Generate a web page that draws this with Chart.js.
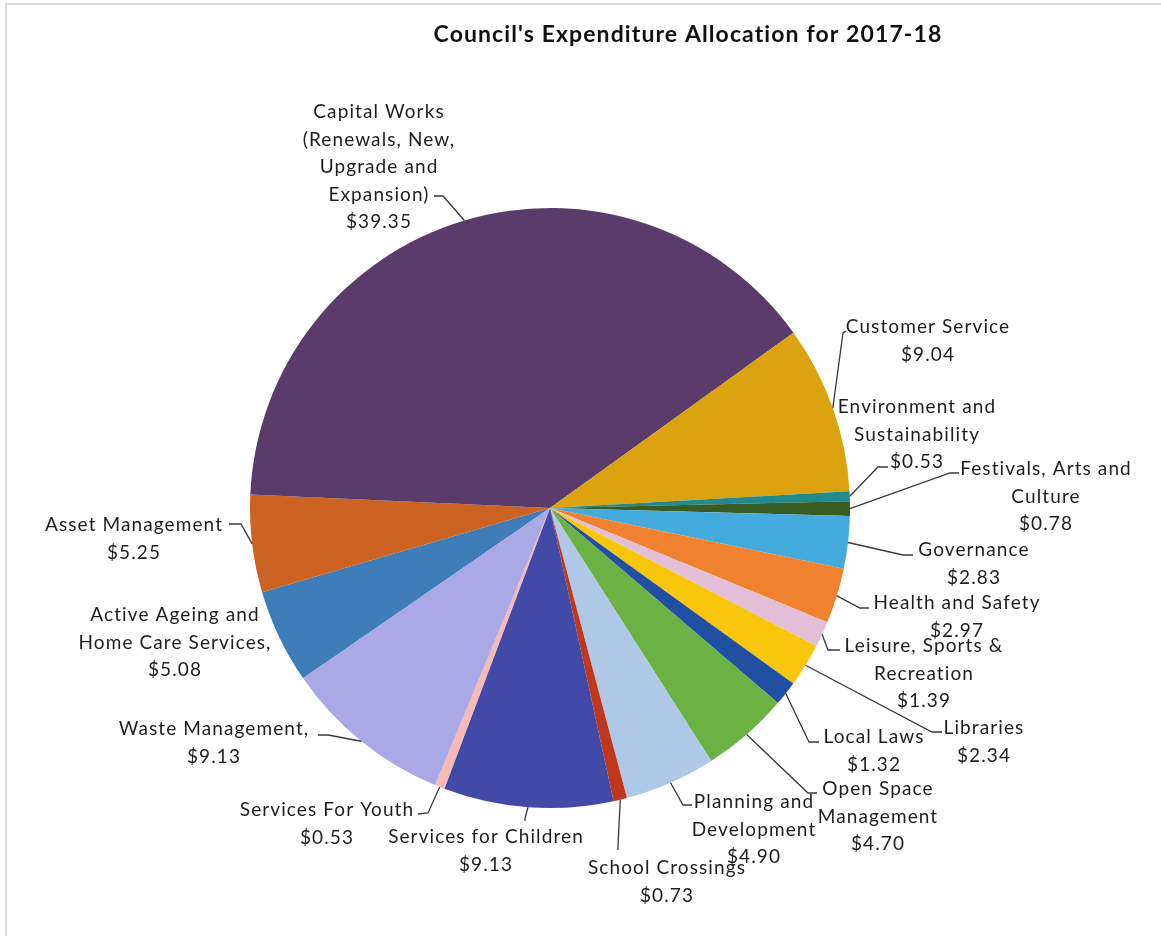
<!DOCTYPE html>
<html>
<head>
<meta charset="utf-8">
<title>Council's Expenditure Allocation for 2017-18</title>
<script src="https://cdn.jsdelivr.net/npm/chart.js@4.4.1/dist/chart.umd.min.js"></script>
<style>
  html, body { margin: 0; padding: 0; background: #fff; }
  #wrap { position: relative; width: 1161px; height: 936px; overflow: hidden; }
  #frame { position: absolute; left: 5px; top: 3px; width: 1170px; height: 950px;
           border-left: 2px solid #d9d9d9; border-top: 2px solid #d9d9d9; pointer-events: none; }
  canvas { position: absolute; left: 0; top: 0; }
</style>
</head>
<body>
<div id="wrap">
  <canvas id="expenditureChart" width="1161" height="936"></canvas>
  <div id="frame"></div>
</div>
<script>
// Expenditure per service area ($ per $100 of rates)
const categories = [
    ["Active Ageing and", "Home Care Services,"],
    ["Asset Management"],
    ["Capital Works", "(Renewals, New,", "Upgrade and", "Expansion)"],
    ["Customer Service"],
    ["Environment and", "Sustainability"],
    ["Festivals, Arts and", "Culture"],
    ["Governance"],
    ["Health and Safety"],
    ["Leisure, Sports &", "Recreation"],
    ["Libraries"],
    ["Local Laws"],
    ["Open Space", "Management"],
    ["Planning and", "Development"],
    ["School Crossings"],
    ["Services for Children"],
    ["Services For Youth"],
    ["Waste Management,"]
];
const amounts = [5.08, 5.25, 39.35, 9.04, 0.53, 0.78, 2.83, 2.97, 1.39, 2.34, 1.32, 4.70, 4.90, 0.73, 9.13, 0.53, 9.13];

const sliceColors = [
    "#3f7db8", "#cc6322", "#5b3b69", "#dba30f", "#24898c", "#385c24",
    "#45abdd", "#f0822f", "#e3bfd7", "#f8c60c", "#2150a2", "#6bb143",
    "#afc8e8", "#bf381b", "#4349a6", "#f6bab6", "#aba8e6"
];

// label placement: centre x / first line y, then the two leader points next to the text
const labelSpots = [
    [175, 615], [134, 525], [379, 112], [928, 327], [917, 407], [1046, 469],
    [974, 550], [957, 603], [924, 646], [984, 728], [874, 737], [878, 789],
    [754, 802], [667, 868], [486, 837], [327, 810], [214, 729]
];
const leaderBends = [
    null,
    [[229, 524], [241, 524]],
    [[434, 196], [443, 196]],
    [[846, 331], [843, 333]],
    [[888, 467], [878, 467]],
    [[959, 473], [950, 473]],
    [[913, 555], [903, 555]],
    [[869, 608], [860, 608]],
    [[840, 650], [828, 650]],
    [[942, 732], [932, 732]],
    [[819, 742], [809, 742]],
    [[817, 793], [808, 793]],
    [[692, 805], [683, 805]],
    [[618, 850], [618, 845]],
    [[525, 821], [525, 818]],
    [[418, 814], [428, 813]],
    [[318, 735], [328, 735]]
];
const LINE_GAP = 27.5;

const calloutLabels = {
    id: "calloutLabels",
    afterDatasetsDraw(chart) {
        const ctx = chart.ctx;
        const arcs = chart.getDatasetMeta(0).data;
        const values = chart.data.datasets[0].data;

        ctx.save();
        ctx.strokeStyle = "#3a3a3a";
        ctx.lineWidth = 1.3;
        arcs.forEach((arc, i) => {
            const bend = leaderBends[i];
            if (!bend) return;
            const p = arc.getProps(["x", "y", "startAngle", "endAngle", "outerRadius"], true);
            const mid = (p.startAngle + p.endAngle) / 2;
            const ex = p.x + Math.cos(mid) * p.outerRadius;
            const ey = p.y + Math.sin(mid) * p.outerRadius;
            ctx.beginPath();
            ctx.moveTo(bend[0][0], bend[0][1]);
            ctx.lineTo(bend[1][0], bend[1][1]);
            ctx.lineTo(ex, ey);
            ctx.stroke();
        });

        ctx.fillStyle = "#1e1e1e";
        ctx.font = "19px Lato";
        ctx.letterSpacing = "1.1px";
        ctx.textAlign = "center";
        ctx.textBaseline = "middle";
        chart.data.labels.forEach((lines, i) => {
            const [cx, cy] = labelSpots[i];
            const all = lines.concat(["$" + values[i].toFixed(2)]);
            all.forEach((t, k) => ctx.fillText(t, cx, cy + k * LINE_GAP));
        });

        // chart title
        ctx.fillStyle = "#111";
        ctx.font = "bold 23px Lato";
        ctx.letterSpacing = "1.1px";
        ctx.fillText("Council's Expenditure Allocation for 2017-18", 688, 35);
        ctx.restore();
    }
};

new Chart(document.getElementById("expenditureChart"), {
    type: "pie",
    data: {
        labels: categories,
        datasets: [{
            data: amounts,
            backgroundColor: sliceColors,
            borderWidth: 0
        }]
    },
    options: {
        responsive: false,
        animation: false,
        rotation: -124.6,
        layout: { padding: { left: 250, right: 311, top: 208, bottom: 128 } },
        plugins: {
            legend: { display: false },
            tooltip: { enabled: false },
            title: { display: false }
        }
    },
    plugins: [calloutLabels]
});
</script>
</body>
</html>
